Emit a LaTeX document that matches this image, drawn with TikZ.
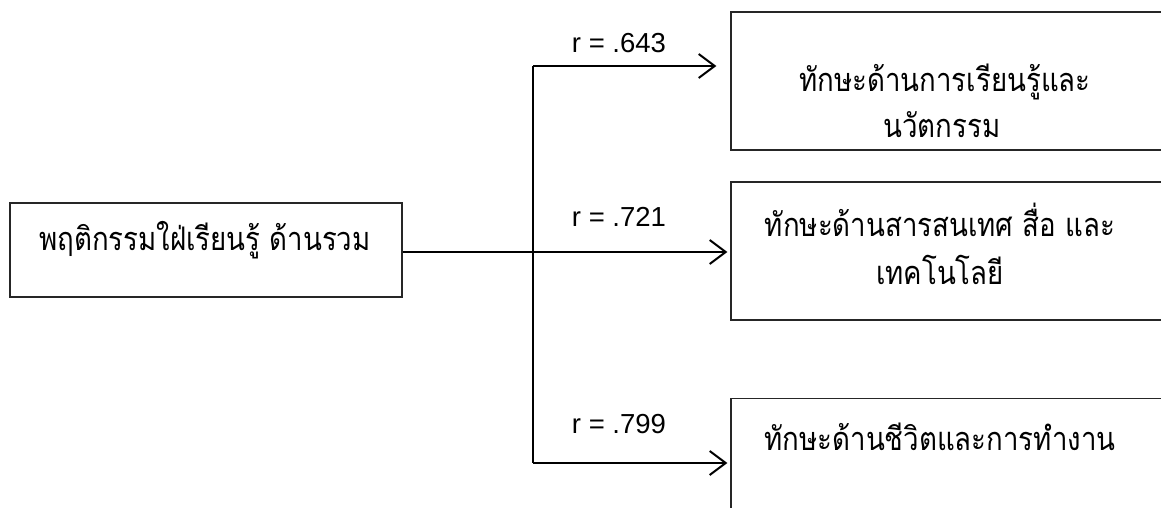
\documentclass[tikz,border=0pt]{standalone}
\usepackage{fontspec}
\setmainfont{Liberation Sans}
\newfontfamily\thaifont[Script=Thai, FakeStretch=0.85]{Loma}
\usetikzlibrary{arrows.meta}
\tikzset{
  box/.style={draw=black!85, line width=1.3pt, minimum width=#1, inner sep=0pt},
  conn/.style={draw=black, line width=2pt},
  arr/.style={conn, -{Straight Barb[length=16pt,width=24pt,line width=2pt]}},
  thai/.style={font=\thaifont\fontsize{32.5}{44}\selectfont, align=center, inner sep=0pt},
  rlab/.style={font=\fontsize{27.5}{30}\selectfont, inner sep=0pt, anchor=base}
}
\begin{document}
\begin{tikzpicture}[x=1pt,y=-1pt]
\clip (0,0) rectangle (1161,507);
\fill[white] (0,0) rectangle (1161,507);
% boxes
\node[box=392pt, minimum height=94pt] (src) at (206,250) {};
\node[box=460pt, minimum height=138pt] (boxA) at (961,81) {};
\node[box=460pt, minimum height=138pt] (boxB) at (961,251) {};
\node[box=460pt, minimum height=138pt, anchor=north] (boxC) at (961,398) {};
% texts
\node[thai, anchor=base] (tsrc) at (205,250) {พฤติกรรมใฝ่เรียนรู้ ด้านรวม};
\node[thai, anchor=base] (tA1) at (945,91) {ทักษะด้านการเรียนรู้และ};
\node[thai, anchor=base] (tA2) at (942,137) {นวัตกรรม};
\node[thai, anchor=base] (tB1) at (940,236) {ทักษะด้านสารสนเทศ สื่อ และ};
\node[thai, anchor=base] (tB2) at (940,284) {เทคโนโลยี};
\node[thai, anchor=base] (tC1) at (940,450) {ทักษะด้านชีวิตและการทำงาน};
% junction points
\coordinate (jt) at (533,66);
\coordinate (jm) at (533,252);
\coordinate (jb) at (533,463);
% connectors
\draw[conn] (jt) -- (jb);
\draw[arr, shorten >=3pt] (src.east |- jm) -- (boxB.west |- jm);
\draw[arr, shorten >=14pt] (jt) -- (boxA.west |- jt);
\draw[arr, shorten >=3pt] (jb) -- (boxC.west |- jb);
% labels
\node[rlab] (rA) at (619,52) {r = .643};
\node[rlab] (rB) at (619,226) {r = .721};
\node[rlab] (rC) at (619,433) {r = .799};
\end{tikzpicture}
\end{document}
